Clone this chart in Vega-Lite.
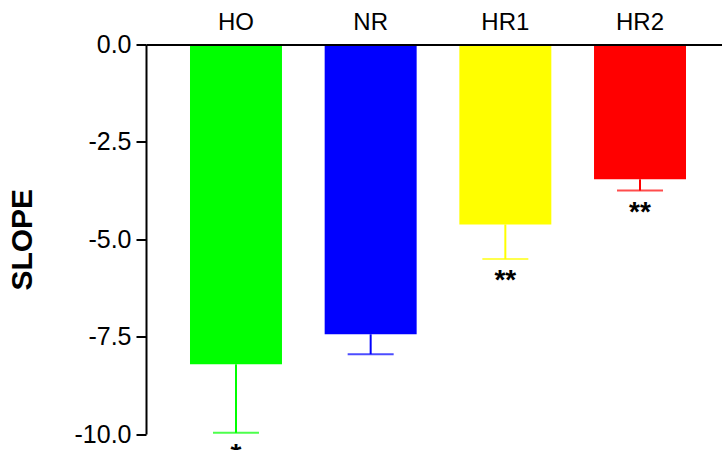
{
  "$schema": "https://vega.github.io/schema/vega-lite/v6.json",
  "autosize": {"type": "none"},
  "padding": {"left": 146, "top": 44.5, "right": 0, "bottom": 16},
  "width": 576,
  "height": 389.5,
  "config": {
    "view": {"stroke": null},
    "font": "Liberation Sans",
    "axis": {"grid": false, "domainColor": "black", "tickColor": "black", "labelColor": "black", "titleColor": "black"}
  },
  "data": {
    "values": [
      {"group": "HO", "slope": -8.21, "low": -9.97, "star": "*"},
      {"group": "NR", "slope": -7.44, "low": -7.95, "star": ""},
      {"group": "HR1", "slope": -4.62, "low": -5.51, "star": "**"},
      {"group": "HR2", "slope": -3.46, "low": -3.75, "star": "**"}
    ]
  },
  "encoding": {
    "x": {
      "field": "group",
      "type": "nominal",
      "sort": ["HO", "NR", "HR1", "HR2"],
      "scale": {"paddingInner": 0.317, "paddingOuter": 0.297, "align": 0.55},
      "axis": {
        "orient": "top",
        "title": null,
        "ticks": false,
        "domainWidth": 2,
        "labelFontSize": 24,
        "labelAngle": 0,
        "labelPadding": 10,
        "zindex": 1
      }
    }
  },
  "layer": [
    {
      "mark": {"type": "bar"},
      "encoding": {
        "y": {
          "field": "slope",
          "type": "quantitative",
          "title": "SLOPE",
          "scale": {"domain": [-10, 0], "nice": false, "zero": false},
          "axis": {
            "values": [0, -2.5, -5, -7.5, -10],
            "format": ".1f",
            "labelExpr": "replace(datum.label, '−', '-')",
            "domainWidth": 2,
            "tickWidth": 2,
            "tickSize": 10,
            "labelFontSize": 25,
            "labelPadding": 5,
            "titleFontSize": 30,
            "titleFontWeight": "bold",
            "titlePadding": 37,
            "zindex": 1
          }
        },
        "color": {
          "field": "group",
          "type": "nominal",
          "scale": {"domain": ["HO", "NR", "HR1", "HR2"], "range": ["#00ff00", "#0000ff", "#ffff00", "#ff0000"]},
          "legend": null
        }
      }
    },
    {
      "mark": {"type": "rule", "strokeWidth": 2},
      "encoding": {
        "y": {"field": "slope", "type": "quantitative", "title": "SLOPE"},
        "y2": {"field": "low"},
        "color": {"field": "group", "type": "nominal", "legend": null}
      }
    },
    {
      "mark": {"type": "tick", "thickness": 2, "size": 46},
      "encoding": {
        "y": {"field": "low", "type": "quantitative", "title": "SLOPE"},
        "color": {"field": "group", "type": "nominal", "legend": null}
      }
    },
    {
      "mark": {"type": "text", "fontSize": 28, "fontWeight": "bold", "baseline": "alphabetic", "dy": 30, "color": "black"},
      "encoding": {
        "y": {"field": "low", "type": "quantitative", "title": "SLOPE"},
        "text": {"field": "star"}
      }
    }
  ]
}
